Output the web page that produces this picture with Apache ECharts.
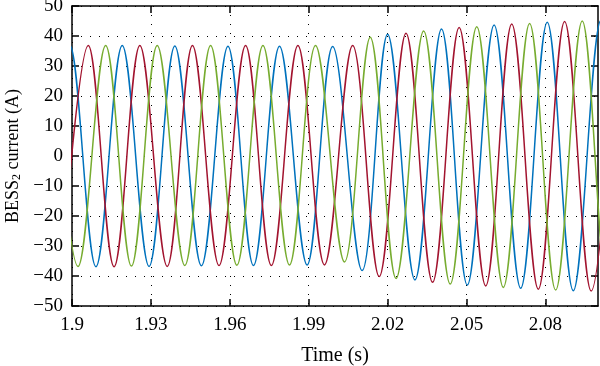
<!DOCTYPE html>
<html><head><meta charset="utf-8">
<script src="https://cdn.jsdelivr.net/npm/echarts@6/dist/echarts.min.js"></script>
<style>html,body{margin:0;padding:0;background:#fff}#c{width:600px;height:366px}</style>
</head><body><div id="c"></div>
<script>
// Tick labels
const xTicks = [1.9, 1.93, 1.96, 1.99, 2.02, 2.05, 2.08];
// Phase currents: read peak / trough times (s) and values (A)
const blueT = [1.8898, 1.8992, 1.9091, 1.9191, 1.9293, 1.9391, 1.9492, 1.9593, 1.9690, 1.9789, 1.9894, 1.9991, 2.0103, 2.0200, 2.0304, 2.0405, 2.0503, 2.0605, 2.0706, 2.0807, 2.0906, 2.1011, 2.1110];
const blueI = [-36.7, 36.8, -36.9, 36.8, -36.8, 36.7, -36.6, 36.6, -36.5, 36.6, -36.3, 36.5, -38.2, 40.6, -41.3, 42.3, -43.0, 43.7, -44.1, 44.6, -44.9, 45.2, -45.3];
const redT = [1.8962, 1.9062, 1.9160, 1.9258, 1.9362, 1.9458, 1.9559, 1.9660, 1.9758, 1.9859, 1.9960, 2.0067, 2.0168, 2.0270, 2.0371, 2.0472, 2.0573, 2.0672, 2.0773, 2.0873, 2.0974, 2.1075];
const redI = [-36.8, 36.8, -36.9, 36.8, -36.8, 36.8, -36.5, 36.8, -36.5, 36.8, -36.3, 36.8, -40.2, 40.9, -42.1, 42.8, -43.3, 44.0, -44.4, 44.8, -45.0, 45.2];
const greenT = [1.8924, 1.9023, 1.9128, 1.9226, 1.9324, 1.9429, 1.9527, 1.9627, 1.9726, 1.9827, 1.9926, 2.0036, 2.0134, 2.0232, 2.0337, 2.0438, 2.0539, 2.0640, 2.0740, 2.0839, 2.0940, 2.1037, 2.1137];
const greenI = [36.8, -36.8, 36.8, -36.7, 36.8, -36.5, 36.8, -36.4, 36.8, -36.3, 36.8, -35.3, 39.6, -40.8, 41.7, -42.7, 43.1, -43.8, 44.2, -44.7, 45.0, -45.1, 45.2];

const FONT = 'Liberation Serif';
const zip = (t, v) => t.map((x, i) => [x, v[i]]);
const axisLineStyle = {color: '#000', width: 1.5};
const gridLine = {show: true, lineStyle: {type: [1, 8], color: '#000', width: 1}};

const chart = echarts.init(document.getElementById('c'), null, {renderer: 'canvas'});
const lineSeries = (name, t, v, color) => ({
  name, type: 'line', data: zip(t, v), showSymbol: false, smooth: 0.36,
  lineStyle: {color, width: 1.5}, itemStyle: {color}, clip: true, animation: false,
  xAxisIndex: 0, yAxisIndex: 0
});

chart.setOption({
  animation: false,
  backgroundColor: '#fff',
  grid: {left: 72, right: 2, top: 6, bottom: 60, containLabel: false, outerBoundsMode: 'none'},
  xAxis: [{
    type: 'value', min: 1.9, max: 2.1, position: 'bottom',
    axisLine: {show: true, onZero: false, lineStyle: axisLineStyle},
    axisTick: {show: true, inside: true, length: 7, customValues: xTicks, lineStyle: axisLineStyle},
    axisLabel: {customValues: xTicks, color: '#000', fontFamily: FONT, fontSize: 19, margin: 10,
      formatter: v => String(+(+v).toFixed(2))},
    splitLine: gridLine,
    name: 'Time (s)', nameLocation: 'middle', nameGap: 40,
    nameTextStyle: {color: '#000', fontFamily: FONT, fontSize: 20}
  }, {
    type: 'value', min: 1.9, max: 2.1, position: 'top',
    axisLine: {show: true, onZero: false, lineStyle: axisLineStyle},
    axisTick: {show: true, inside: true, length: 7, customValues: xTicks, lineStyle: axisLineStyle},
    axisLabel: {show: false}, splitLine: {show: false}
  }],
  yAxis: [{
    type: 'value', min: -50, max: 50, interval: 10, position: 'left',
    axisLine: {show: true, onZero: false, lineStyle: axisLineStyle},
    axisTick: {show: true, inside: true, length: 7, lineStyle: axisLineStyle},
    axisLabel: {color: '#000', fontFamily: FONT, fontSize: 19, margin: 9,
      formatter: v => String(v).replace('-', '\u2212')},
    splitLine: gridLine,
    name: '{a|BESS}{b|2}{a| current (A)}', nameLocation: 'middle', nameGap: 48,
    nameTextStyle: {color: '#000', fontFamily: FONT, fontSize: 18,
      rich: {a: {fontFamily: FONT, fontSize: 18, color: '#000'},
             b: {fontFamily: FONT, fontSize: 12, color: '#000', verticalAlign: 'bottom', padding: [7, 0, 0, 0]}}}
  }, {
    type: 'value', min: -50, max: 50, interval: 10, position: 'right',
    axisLine: {show: true, onZero: false, lineStyle: axisLineStyle},
    axisTick: {show: true, inside: true, length: 7, lineStyle: axisLineStyle},
    axisLabel: {show: false}, splitLine: {show: false}
  }],
  series: [
    lineSeries('Phase a', blueT, blueI, '#0072BD'),
    lineSeries('Phase b', redT, redI, '#A2142F'),
    lineSeries('Phase c', greenT, greenI, '#77AC30')
  ]
});
</script>
</body></html>
